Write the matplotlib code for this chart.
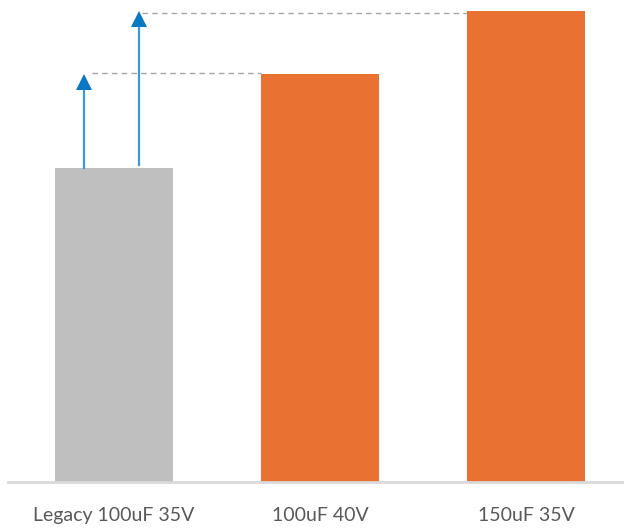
import matplotlib
matplotlib.use("Agg")
import matplotlib.pyplot as plt

categories = ["Legacy 100uF 35V", "100uF 40V", "150uF 35V"]
values = [100, 130, 150]
bar_colors = ["#BFBFBF", "#E97132", "#E97132"]

fig = plt.figure(figsize=(6.24, 5.29), dpi=100)
# axes in pixel terms: left 8, right 624, bottom baseline at 482, top 0
W, H = 624, 529
ax = fig.add_axes([8 / W, (H - 482) / H, 616 / W, 482 / H])

x = list(range(len(categories)))
ax.bar(x, values, width=0.573, color=bar_colors, zorder=2)

ax.set_xlim(-0.515, 2.476)
ax.set_ylim(0, 482 / 3.14)

# growth arrows from the legacy bar up to each newer part
arrow_x = [-0.146, 0.121]
targets = [values[1], values[2]]
for ax_x, tgt, start in zip(arrow_x, targets, [values[0], values[0] + 1]):
    ax.plot([ax_x, ax_x], [start, tgt - 4], color="#3A9AD9", lw=1.6, zorder=3)
    ax.plot([ax_x], [tgt - 2.7], marker="^", markersize=12, color="#0A78C2",
            markeredgewidth=0, zorder=4)

# dashed guides from arrow tips to the bars they reach
ax.plot([-0.108, 1 - 0.2865], [values[1] + 0.1, values[1] + 0.1], ls=(0, (4, 3)),
        color="#A6A6A6", lw=1.0, zorder=1)
ax.plot([0.136, 2 - 0.2865], [values[2] - 0.5, values[2] - 0.5], ls=(0, (4, 3)),
        color="#A6A6A6", lw=1.0, zorder=1)

for s in ["top", "right", "left"]:
    ax.spines[s].set_visible(False)
ax.spines["bottom"].set_color("#D9D9D9")
ax.spines["bottom"].set_linewidth(2)
ax.set_yticks([])
ax.set_xticks(x)
ax.set_xticklabels(categories, fontsize=14, color="#595959",
                   fontfamily=["Lato", "DejaVu Sans"])
ax.tick_params(axis="x", length=0, pad=18)

fig.savefig("out.png", dpi=100)
